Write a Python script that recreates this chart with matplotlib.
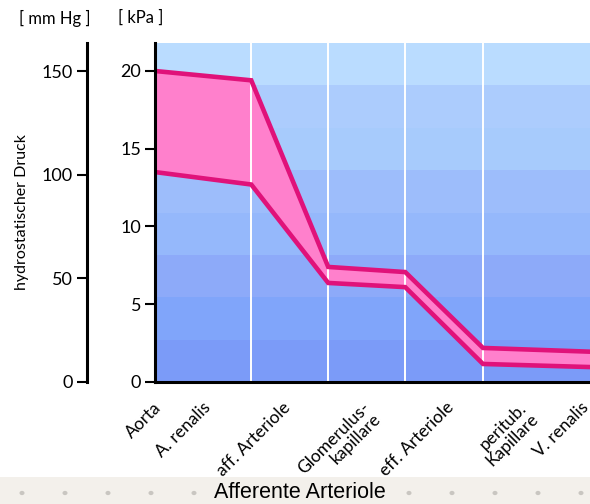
import matplotlib
matplotlib.use("Agg")
import matplotlib.pyplot as plt
from matplotlib.transforms import offset_copy
from matplotlib.patches import Rectangle, Circle

# Pressure along the renal vasculature (kPa)
station_x = [0.0, 1.25, 2.25, 3.25, 4.26, 5.65]
upper_kpa = [20.0, 19.4, 7.4, 7.07, 2.19, 1.95]
lower_kpa = [13.5, 12.7, 6.37, 6.1, 1.16, 0.96]

# Vessel boundaries drawn as white guide lines
divider_x = [1.25, 2.25, 3.25, 4.26]

# Rotated category labels and where their ends sit on the x axis
vessel_labels = ["Aorta", "A. renalis", "aff. Arteriole", "Glomerulus-\nkapillare",
                 "eff. Arteriole", "peritub.\nKapillare", "V. renalis"]
label_x = [-0.03, 0.62, 1.65, 2.68, 3.77, 4.72, 5.52]

kpa_ticks = [0, 5, 10, 15, 20]
mmhg_ticks = [0, 50, 100, 150]
KPA_TO_MMHG = 7.50062

band_colors = ["#BADCFF", "#ACCCFD", "#A7CBFC", "#9DBDFB",
               "#95B8FB", "#8DAAF9", "#80A5FA", "#7B9BF8"]

YMAX = 21.8
XMAX = 5.65

narrow = ["Lato", "DejaVu Sans"]

fig = plt.figure(figsize=(5.9, 5.04), dpi=100)
fig.patch.set_facecolor("white")

W, H = 590.0, 504.0
ax = fig.add_axes([155 / W, 122 / H, (590 - 155) / W, (382 - 43) / H])
ax.set_xlim(0, XMAX)
ax.set_ylim(0, YMAX)

# horizontal colour bands in the background
nb = len(band_colors)
for i, c in enumerate(band_colors):
    y0 = YMAX * (nb - 1 - i) / nb
    ax.add_patch(Rectangle((0, y0), XMAX, YMAX / nb, facecolor=c,
                           edgecolor="none", zorder=0))

ax.fill_between(station_x, lower_kpa, upper_kpa, color="#FF80CC",
                lw=0, zorder=1)
for xv in divider_x:
    ax.axvline(xv, color="white", lw=1.4, zorder=2)
ax.plot(station_x, upper_kpa, color="#E0127A", lw=3.3,
        solid_joinstyle="miter", zorder=3)
ax.plot(station_x, lower_kpa, color="#E0127A", lw=3.3,
        solid_joinstyle="miter", zorder=3)

for s in ["top", "right"]:
    ax.spines[s].set_visible(False)
for s in ["left", "bottom"]:
    ax.spines[s].set_linewidth(2.2)
    ax.spines[s].set_color("black")
    ax.spines[s].set_zorder(5)

ax.set_yticks(kpa_ticks)
ax.set_yticklabels([str(t) for t in kpa_ticks], family=narrow, fontsize=13)
ax.tick_params(axis="y", length=7, width=1.5, pad=3, color="black")
ax.set_xticks([])

# category labels below the axis
trans = offset_copy(ax.get_xaxis_transform(), fig=fig, x=0, y=-12.5,
                    units="points")
for lab, xv in zip(vessel_labels, label_x):
    ax.text(xv, 0, lab, transform=trans, rotation=45, ha="right", va="top",
            rotation_mode="anchor", family=narrow, fontsize=12.5,
            linespacing=1.0, clip_on=False)

# secondary mmHg scale
ax2 = fig.add_axes([87 / W, 122 / H, 0.001, (382 - 43) / H])
ax2.set_ylim(0, YMAX * KPA_TO_MMHG)
ax2.patch.set_visible(False)
for s in ["top", "right", "bottom"]:
    ax2.spines[s].set_visible(False)
ax2.spines["left"].set_linewidth(2.2)
ax2.set_xticks([])
ax2.set_yticks(mmhg_ticks)
ax2.set_yticklabels([str(t) for t in mmhg_ticks], family=narrow, fontsize=13)
ax2.tick_params(axis="y", length=7, width=1.5, pad=3, color="black")

fig.text(55 / W, 1 - 18 / H, "[ mm Hg ]", ha="center", va="center",
         family=narrow, fontsize=12)
fig.text(141 / W, 1 - 18 / H, "[ kPa ]", ha="center", va="center",
         family=narrow, fontsize=12)
fig.text(22 / W, 1 - 212 / H, "hydrostatischer Druck", rotation=90,
         ha="center", va="center", family=narrow, fontsize=11.5)

# caption strip
fig.patches.append(Rectangle((0, 0), 1, 27 / H, transform=fig.transFigure,
                             facecolor="#F3F0EB", edgecolor="none", zorder=0))
for k in range(14):
    px = 22 + 43 * k
    if 200 < px < 400:
        continue
    fig.patches.append(Circle((px / W, 11 / H), 2.5 / W,
                              transform=fig.transFigure, facecolor="#C9C6C1",
                              edgecolor="none", zorder=1))
fig.text(300 / W, 11 / H, "Afferente Arteriole", ha="center", va="center",
         family="Liberation Sans", fontsize=15.5, color="black")

fig.savefig("out.png", dpi=100, facecolor="white")
